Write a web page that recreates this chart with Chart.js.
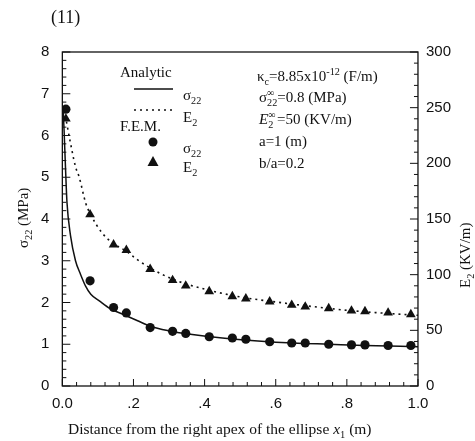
<!DOCTYPE html>
<html>
<head>
<meta charset="utf-8">
<script src="https://cdn.jsdelivr.net/npm/chart.js@4"></script>
<style>
  html, body { margin: 0; padding: 0; background: #fff; }
  #wrap { width: 475px; height: 441px; }
</style>
</head>
<body>
<div id="wrap"><canvas id="myChart" width="475" height="441"></canvas></div>
<script>
(() => {
    'use strict';

    // F.E.M. sample points (x1 in m)
    const femX = [0.01, 0.078, 0.144, 0.18, 0.247, 0.31, 0.347, 0.413, 0.478, 0.516,
        0.583, 0.645, 0.683, 0.749, 0.813, 0.851, 0.916, 0.98];
    const femSigma = [6.63, 2.52, 1.88, 1.75, 1.40, 1.31, 1.26, 1.18, 1.15, 1.12,
        1.06, 1.03, 1.03, 1.00, 0.985, 0.985, 0.97, 0.97];
    const femE2 = [240, 154, 127, 122, 105, 95, 90, 85, 80.5, 78.5,
        75.7, 72.7, 71.2, 69.7, 67.6, 67, 65.8, 64.3];

    // analytic curves
    const sigmaCurveX = [0.002, 0.005, 0.009, 0.013, 0.023, 0.037, 0.05, 0.065, 0.08, 0.104,
        0.135, 0.17, 0.21, 0.247, 0.3, 0.36, 0.45, 0.55, 0.65, 0.75, 0.85, 0.95, 1.0];
    const sigmaCurve = [6.7, 6.1, 5.2, 4.4, 3.6, 3.0, 2.7, 2.4, 2.2, 2.04,
        1.85, 1.72, 1.57, 1.43, 1.32, 1.24, 1.15, 1.08, 1.03, 1.0, 0.97, 0.95, 0.94];
    const e2CurveX = [0.005, 0.01, 0.023, 0.037, 0.047, 0.066, 0.078, 0.113, 0.144, 0.18,
        0.213, 0.247, 0.31, 0.4, 0.5, 0.6, 0.7, 0.8, 0.9, 1.0];
    const e2Curve = [248, 240, 218, 197, 188, 164, 155, 137, 128, 121,
        113, 106, 96, 87, 80, 75.5, 71.5, 68, 65.5, 63.5];

    const xTicks = [0, 0.2, 0.4, 0.6, 0.8, 1.0];

    const toXY = (xs, ys) => xs.map((x, i) => ({ x, y: ys[i] }));

    const SANS = '"Liberation Sans", Arial, sans-serif';
    const SERIF = '"Liberation Serif", "Times New Roman", serif';
    const INK = '#111';

    // draw a run of text pieces: [text, kind, noAdvance] kind = '', 'sub', 'sup', 'i'
    function drawRun(ctx, x, y, parts, size) {
        let cx = x;
        parts.forEach(p => {
            const [t, kind, back] = p;
            let fs = size, dy = 0, style = '';
            if (kind === 'sub') { fs = size * 0.68; dy = size * 0.28; }
            if (kind === 'sup') { fs = size * 0.68; dy = -size * 0.38; }
            if (kind === 'i') { style = 'italic '; }
            ctx.font = style + fs + 'px ' + SERIF;
            ctx.fillText(t, cx, y + dy);
            const w = ctx.measureText(t).width;
            if (!back) cx += w;
        });
        return cx;
    }

    function seg(ctx, x1, y1, x2, y2) {
        ctx.beginPath();
        ctx.moveTo(x1, y1);
        ctx.lineTo(x2, y2);
        ctx.stroke();
    }

    const decor = {
        id: 'decor',
        afterDraw(chart) {
            const { ctx, chartArea: a, scales } = chart;
            ctx.save();
            ctx.strokeStyle = INK;
            ctx.fillStyle = INK;
            ctx.lineWidth = 1.3;
            ctx.strokeRect(a.left, a.top, a.right - a.left, a.bottom - a.top);

            // inward ticks
            ctx.lineWidth = 1;
            for (let i = 0; i <= 25; i++) {
                const px = scales.x.getPixelForValue(i * 0.04);
                seg(ctx, px, a.bottom, px, a.bottom - (i % 5 === 0 ? 7 : 4));
            }
            for (let i = 0; i <= 40; i++) {
                const py = scales.y.getPixelForValue(i * 0.2);
                seg(ctx, a.left, py, a.left + (i % 5 === 0 ? 8 : 4), py);
            }
            for (let i = 0; i <= 30; i++) {
                const py = scales.y2.getPixelForValue(i * 10);
                seg(ctx, a.right, py, a.right - (i % 5 === 0 ? 8 : 4), py);
            }

            ctx.textBaseline = 'alphabetic';
            ctx.textAlign = 'left';

            // figure number
            ctx.font = '18px ' + SERIF;
            ctx.fillText('(11)', 51, 23);

            // x title
            let xt = 68;
            xt = drawRun(ctx, xt, 434, [['Distance from the right apex of the ellipse ', '']], 15.5);
            drawRun(ctx, xt, 434, [['x', 'i'], ['1', 'sub'], [' (m)', '']], 15.5);

            // left title
            ctx.save();
            ctx.translate(28, 248);
            ctx.rotate(-Math.PI / 2);
            drawRun(ctx, 0, 0, [['σ', ''], ['22', 'sub'], [' (MPa)', '']], 15);
            ctx.restore();

            // right title
            ctx.save();
            ctx.translate(470, 288);
            ctx.rotate(-Math.PI / 2);
            drawRun(ctx, 0, 0, [['E', ''], ['2', 'sub'], [' (KV/m)', '']], 15);
            ctx.restore();

            // legend
            ctx.font = '15px ' + SERIF;
            ctx.fillText('Analytic', 120, 77);
            ctx.lineWidth = 1.5;
            seg(ctx, 134, 89, 173, 89);
            drawRun(ctx, 183, 100, [['σ', ''], ['22', 'sub']], 15);
            ctx.setLineDash([2, 4]);
            seg(ctx, 134, 110, 172, 110);
            ctx.setLineDash([]);
            drawRun(ctx, 183, 122, [['E', ''], ['2', 'sub']], 15);
            ctx.font = '15px ' + SERIF;
            ctx.fillText('F.E.M.', 120, 131);
            ctx.beginPath();
            ctx.arc(153, 142, 4.5, 0, Math.PI * 2);
            ctx.fill();
            drawRun(ctx, 183, 153, [['σ', ''], ['22', 'sub']], 15);
            ctx.beginPath();
            ctx.moveTo(153, 156);
            ctx.lineTo(158.5, 166);
            ctx.lineTo(147.5, 166);
            ctx.closePath();
            ctx.fill();
            drawRun(ctx, 183, 172, [['E', ''], ['2', 'sub']], 15);

            // parameters
            drawRun(ctx, 257, 81, [['κ', ''], ['c', 'sub'], ['=8.85x10', ''], ['-12', 'sup'], [' (F/m)', '']], 15);
            drawRun(ctx, 259, 102, [['σ', ''], ['∞', 'sup', true], ['22', 'sub'], ['=0.8 (MPa)', '']], 15);
            drawRun(ctx, 259, 124, [['E', 'i'], ['∞', 'sup', true], ['2', 'sub'], [' =50 (KV/m)', '']], 15);
            drawRun(ctx, 259, 146, [['a=1 (m)', '']], 15);
            drawRun(ctx, 259, 168, [['b/a=0.2', '']], 15);

            ctx.restore();
        }
    };

    const ctx = document.getElementById('myChart').getContext('2d');
    // eslint-disable-next-line no-unused-vars
    const myChart = new Chart(ctx, {
        type: 'scatter',
        data: {
            datasets: [{
                data: toXY(sigmaCurveX, sigmaCurve),
                yAxisID: 'y',
                showLine: true,
                borderColor: INK,
                borderWidth: 1.5,
                pointRadius: 0,
                cubicInterpolationMode: 'monotone'
            }, {
                data: toXY(e2CurveX, e2Curve),
                yAxisID: 'y2',
                showLine: true,
                borderColor: INK,
                borderWidth: 1.6,
                borderDash: [2, 4],
                pointRadius: 0,
                cubicInterpolationMode: 'monotone'
            }, {
                data: toXY(femX, femSigma),
                yAxisID: 'y',
                pointStyle: 'circle',
                pointRadius: 4.6,
                backgroundColor: INK,
                borderColor: INK,
                borderWidth: 0
            }, {
                data: toXY(femX, femE2),
                yAxisID: 'y2',
                pointStyle: 'triangle',
                pointRadius: 5.6,
                backgroundColor: INK,
                borderColor: INK,
                borderWidth: 0
            }]
        },
        options: {
            responsive: false,
            animation: false,
            layout: { padding: { left: 28, right: 16, top: 52, bottom: 19 } },
            plugins: {
                legend: { display: false },
                tooltip: { enabled: false }
            },
            scales: {
                x: {
                    type: 'linear',
                    min: 0,
                    max: 1,
                    afterBuildTicks: (s) => { s.ticks = xTicks.map(v => ({ value: v })); },
                    grid: { display: false, drawTicks: false },
                    border: { display: false },
                    ticks: {
                        padding: 9,
                        maxRotation: 0,
                        autoSkip: false,
                        color: INK,
                        font: { family: SANS, size: 15 },
                        callback: (v) => (v === 0 ? '0.0' : v === 1 ? '1.0' : v.toFixed(1).replace(/^0/, ''))
                    }
                },
                y: {
                    position: 'left',
                    min: 0,
                    max: 8,
                    grid: { display: false, drawTicks: false },
                    border: { display: false },
                    ticks: {
                        stepSize: 1,
                        padding: 13,
                        color: INK,
                        font: { family: SANS, size: 15 }
                    }
                },
                y2: {
                    position: 'right',
                    min: 0,
                    max: 300,
                    grid: { display: false, drawTicks: false },
                    border: { display: false },
                    ticks: {
                        stepSize: 50,
                        padding: 8,
                        color: INK,
                        font: { family: SANS, size: 15 }
                    }
                }
            }
        },
        plugins: [decor]
    });
})();
</script>
</body>
</html>
